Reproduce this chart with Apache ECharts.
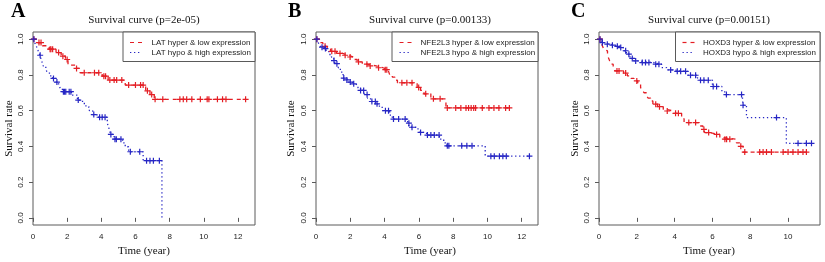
<!DOCTYPE html>
<html><head><meta charset="utf-8">
<script src="https://cdn.jsdelivr.net/npm/echarts@6/dist/echarts.min.js"></script>
<style>html,body{margin:0;padding:0;background:#fff}#c{width:825px;height:262px}</style>
</head><body><div id="c"></div>
<script>
// ---------- labels ----------
const panelLetters = ['A', 'B', 'C'];
const panelTitles = ['Survival curve (p=2e-05)', 'Survival curve (p=0.00133)', 'Survival curve (p=0.00151)'];
const lowLabels = ['LAT hyper & low expression', 'NFE2L3 hyper & low expression', 'HOXD3 hyper & low expression'];
const highLabels = ['LAT hypo & high expression', 'NFE2L3 hypo & high expression', 'HOXD3 hypo & high expression'];
const xTitle = 'Time (year)';
const yTitle = 'Survival rate';
const xTicksA = [0, 2, 4, 6, 8, 10, 12];
const xTicksB = [0, 2, 4, 6, 8, 10, 12];
const xTicksC = [0, 2, 4, 6, 8, 10];
const yTicks = [0, 0.2, 0.4, 0.6, 0.8, 1.0];
const xMaxA = 13.0, xMaxB = 12.95, xMaxC = 11.69;

// ---------- A: LAT ----------
const latLowTimes = [0.2, 0.55, 0.95, 1.35, 1.65, 1.9, 2.05, 2.5, 2.75, 4.05, 4.4, 5.4, 6.6, 6.85, 7.1];
const latLowSurv  = [0.981, 0.963, 0.944, 0.925, 0.905, 0.886, 0.855, 0.836, 0.812, 0.793, 0.771, 0.743, 0.711, 0.69, 0.663];
const latLowCensor = [0.05, 0.35, 0.47, 1.0, 1.05, 1.15, 1.5, 1.75, 2.0, 2.55, 3.0, 3.6, 3.85, 4.15, 4.25, 4.5, 4.75, 4.9, 5.2, 5.6, 6.0, 6.3, 6.45, 6.7, 6.95, 7.15, 7.6, 8.6, 8.8, 9.0, 9.3, 9.8, 10.2, 10.3, 10.8, 11.1, 11.3, 12.45];
const latHighTimes = [0.1, 0.2, 0.3, 0.4, 0.5, 0.6, 0.75, 0.86, 1.0, 1.15, 1.35, 1.5, 1.6, 1.72, 2.25, 2.6, 2.9, 3.1, 3.3, 3.5, 3.75, 4.35, 4.45, 4.55, 4.75, 5.25, 5.4, 5.6, 6.45, 7.55];
const latHighSurv  = [0.98, 0.96, 0.935, 0.91, 0.88, 0.85, 0.83, 0.81, 0.795, 0.78, 0.76, 0.743, 0.725, 0.706, 0.687, 0.659, 0.64, 0.62, 0.60, 0.578, 0.563, 0.53, 0.5, 0.467, 0.44, 0.42, 0.398, 0.37, 0.32, 0.0];
const latHighCensor = [0.05, 0.42, 1.2, 1.4, 1.78, 1.85, 1.92, 2.12, 2.22, 2.65, 3.56, 3.9, 4.05, 4.22, 4.56, 4.8, 4.88, 5.15, 5.7, 6.25, 6.65, 6.85, 7.05, 7.4];

// ---------- B: NFE2L3 ----------
const nfeLowTimes = [0.2, 0.4, 0.65, 0.85, 1.2, 1.55, 1.85, 2.2, 2.4, 2.7, 3.0, 3.5, 3.9, 4.2, 4.3, 4.45, 4.6, 4.75, 5.9, 6.1, 6.3, 6.7, 7.58];
const nfeLowSurv  = [0.98, 0.96, 0.944, 0.932, 0.92, 0.91, 0.9, 0.886, 0.873, 0.86, 0.85, 0.84, 0.829, 0.82, 0.80, 0.788, 0.77, 0.756, 0.73, 0.713, 0.694, 0.666, 0.615];
const nfeLowCensor = [0.05, 0.53, 0.92, 1.11, 1.4, 1.7, 1.99, 2.48, 2.97, 3.16, 3.65, 4.04, 4.13, 5.01, 5.3, 5.6, 5.99, 6.4, 6.85, 7.24, 7.66, 8.15, 8.45, 8.75, 8.9, 9.05, 9.2, 9.31, 9.7, 10.09, 10.38, 10.67, 11.06, 11.28];
const nfeHighTimes = [0.1, 0.2, 0.3, 0.45, 0.6, 0.75, 0.9, 1.03, 1.13, 1.3, 1.42, 1.58, 1.75, 1.9, 2.1, 2.3, 2.45, 2.6, 2.8, 3.0, 3.18, 3.5, 3.7, 3.86, 4.3, 4.45, 5.35, 5.45, 5.95, 6.05, 6.45, 7.2, 7.45, 7.63, 9.87];
const nfeHighSurv  = [0.985, 0.97, 0.955, 0.947, 0.93, 0.914, 0.9, 0.88, 0.863, 0.84, 0.816, 0.782, 0.772, 0.76, 0.75, 0.741, 0.727, 0.713, 0.69, 0.67, 0.651, 0.638, 0.62, 0.6, 0.575, 0.553, 0.53, 0.507, 0.49, 0.478, 0.463, 0.44, 0.42, 0.403, 0.345];
const nfeHighCensor = [0.05, 0.35, 0.55, 1.05, 1.22, 1.62, 1.8, 2.0, 2.2, 2.6, 2.78, 2.98, 3.26, 3.46, 3.56, 4.05, 4.23, 4.52, 4.82, 5.2, 5.42, 5.6, 6.1, 6.5, 6.7, 6.9, 7.18, 7.66, 7.75, 8.5, 8.8, 9.1, 10.2, 10.4, 10.7, 10.9, 11.1, 12.45];

// ---------- C: HOXD3 ----------
const hoxLowTimes = [0.15, 0.25, 0.35, 0.45, 0.53, 0.62, 0.75, 0.85, 1.3, 1.5, 1.7, 1.85, 2.05, 2.2, 2.3, 2.38, 2.5, 2.6, 2.73, 2.85, 3.1, 3.4, 3.57, 3.93, 4.37, 4.5, 5.3, 5.5, 5.6, 5.86, 6.39, 6.57, 7.27, 7.45, 7.62];
const hoxLowSurv  = [0.97, 0.944, 0.934, 0.91, 0.888, 0.86, 0.84, 0.822, 0.81, 0.794, 0.78, 0.766, 0.748, 0.729, 0.714, 0.70, 0.685, 0.67, 0.654, 0.636, 0.622, 0.607, 0.598, 0.585, 0.555, 0.533, 0.514, 0.495, 0.477, 0.467, 0.449, 0.44, 0.42, 0.40, 0.368];
const hoxLowCensor = [0.05, 0.95, 1.06, 1.41, 2.0, 3.0, 3.2, 3.61, 4.05, 4.2, 4.75, 5.11, 5.55, 5.8, 6.22, 6.66, 6.75, 6.92, 7.5, 7.71, 8.5, 8.68, 8.86, 9.12, 9.74, 10.0, 10.26, 10.53, 10.79, 10.97];
const hoxHighTimes = [0.14, 0.3, 0.55, 0.85, 1.11, 1.29, 1.45, 1.64, 1.85, 2.08, 2.9, 3.31, 3.57, 3.84, 4.7, 5.2, 5.3, 6.0, 6.5, 6.65, 7.59, 7.62, 7.8, 9.91];
const hoxHighSurv  = [0.98, 0.972, 0.966, 0.96, 0.953, 0.935, 0.916, 0.892, 0.878, 0.869, 0.86, 0.841, 0.828, 0.82, 0.798, 0.785, 0.77, 0.735, 0.71, 0.69, 0.664, 0.63, 0.561, 0.417];
const hoxHighCensor = [0.05, 0.18, 0.44, 0.71, 0.97, 1.15, 1.41, 1.58, 1.76, 1.94, 2.29, 2.46, 2.64, 3.0, 3.17, 3.79, 4.14, 4.32, 4.58, 4.84, 5.11, 5.37, 5.55, 5.78, 6.04, 6.22, 6.74, 7.54, 7.62, 9.39, 10.53, 10.97, 11.24];

// ---------- helpers ----------
function kmLine(times, surv, censor) {
  const pts = [[0, 1]];
  times.forEach((t, i) => pts.push([t, surv[i]]));
  const end = Math.max(times[times.length - 1], censor[censor.length - 1]);
  pts.push([end, surv[surv.length - 1]]);
  return pts;
}
function kmAt(times, surv, t) {
  let s = 1;
  for (let i = 0; i < times.length; i++) if (times[i] <= t) s = surv[i];
  return s;
}
function kmCensor(times, surv, censor) {
  return censor.map(t => [t, kmAt(times, surv, t)]);
}

const RED = '#e41e24', BLUE = '#2626c4', BOX = '#5a5a5a', SERIF = 'Liberation Serif', SANS = 'Liberation Sans';
const PLUS = 'path://M0,5L10,5M5,0L5,10';

const panels = [
  { grid: { left: 33, top: 32, width: 222, height: 193 }, xMax: xMaxA, xTicks: xTicksA,
    low: [latLowTimes, latLowSurv, latLowCensor], high: [latHighTimes, latHighSurv, latHighCensor],
    letterX: 11, titleX: 144, yTitleX: 9, legLeft: 123, lineX: 130, textX: 151.5 },
  { grid: { left: 316, top: 32, width: 222, height: 193 }, xMax: xMaxB, xTicks: xTicksB,
    low: [nfeLowTimes, nfeLowSurv, nfeLowCensor], high: [nfeHighTimes, nfeHighSurv, nfeHighCensor],
    letterX: 288, titleX: 430, yTitleX: 291, legLeft: 392, lineX: 399.5, textX: 420.5 },
  { grid: { left: 599, top: 32, width: 221, height: 193 }, xMax: xMaxC, xTicks: xTicksC,
    low: [hoxLowTimes, hoxLowSurv, hoxLowCensor], high: [hoxHighTimes, hoxHighSurv, hoxHighCensor],
    letterX: 571, titleX: 709, yTitleX: 575, legLeft: 675.5, lineX: 682.5, textX: 703 }
];

const grid = [], xAxis = [], yAxis = [], series = [], graphic = [];
panels.forEach((p, i) => {
  grid.push(Object.assign({ show: true, borderColor: BOX, borderWidth: 1, backgroundColor: 'transparent' }, p.grid));
  xAxis.push({
    type: 'value', gridIndex: i, min: 0, max: p.xMax,
    axisLine: { show: false },
    axisTick: { show: true, length: 4, lineStyle: { color: BOX }, customValues: p.xTicks },
    axisLabel: { customValues: p.xTicks, fontSize: 8, fontFamily: SANS, color: '#222', margin: 8 },
    splitLine: { show: false }
  });
  yAxis.push({
    type: 'value', gridIndex: i, min: -0.04, max: 1.04,
    axisLine: { show: false },
    axisTick: { show: true, length: 4, lineStyle: { color: BOX }, customValues: yTicks },
    axisLabel: { customValues: yTicks, rotate: 90, fontSize: 8, fontFamily: SANS, color: '#222', margin: 8,
      formatter: v => v.toFixed(1) },
    splitLine: { show: false }
  });
  [[p.low, RED, [4, 4]], [p.high, BLUE, [1.3, 2.7]]].forEach(([d, col, dash]) => {
    series.push({ type: 'line', xAxisIndex: i, yAxisIndex: i, step: 'end', symbol: 'none',
      data: kmLine(d[0], d[1], d[2]), lineStyle: { color: col, width: 1.3, type: dash }, silent: true, z: 2 });
  });
  [[p.low, RED], [p.high, BLUE]].forEach(([d, col]) => {
    series.push({ type: 'scatter', xAxisIndex: i, yAxisIndex: i, symbol: PLUS, symbolSize: 6,
      data: kmCensor(d[0], d[1], d[2]),
      itemStyle: { color: 'none', borderColor: col, borderWidth: 1.2, opacity: 1 }, silent: true, z: 3 });
  });
  const g = p.grid;
  const cx = p.titleX;
  graphic.push({ type: 'text', x: p.letterX, y: 12, style: { text: panelLetters[i], font: 'bold 20px ' + SERIF, fill: '#000', align: 'left', verticalAlign: 'middle' } });
  graphic.push({ type: 'text', x: cx, y: 20, style: { text: panelTitles[i], font: '11px ' + SERIF, fill: '#111', align: 'center', verticalAlign: 'middle' } });
  graphic.push({ type: 'text', x: cx, y: 251, style: { text: xTitle, font: '11px ' + SERIF, fill: '#111', align: 'center', verticalAlign: 'middle' } });
  graphic.push({ type: 'text', x: p.yTitleX, y: g.top + g.height / 2, rotation: Math.PI / 2, style: { text: yTitle, font: '11px ' + SERIF, fill: '#111', align: 'center', verticalAlign: 'middle' } });
  const right = g.left + g.width;
  graphic.push({ type: 'rect', z: 10, shape: { x: p.legLeft, y: g.top, width: right - p.legLeft, height: 29.5 }, style: { fill: '#fff', stroke: BOX, lineWidth: 1 } });
  graphic.push({ type: 'line', z: 11, shape: { x1: p.lineX, y1: 42.5, x2: p.lineX + 12, y2: 42.5 }, style: { stroke: RED, lineWidth: 1.2, lineDash: [4, 4] } });
  graphic.push({ type: 'line', z: 11, shape: { x1: p.lineX, y1: 52.5, x2: p.lineX + 12, y2: 52.5 }, style: { stroke: BLUE, lineWidth: 1.2, lineDash: [1.3, 2.7] } });
  graphic.push({ type: 'text', z: 11, x: p.textX, y: 42.5, style: { text: lowLabels[i], font: '8px ' + SANS, fill: '#222', align: 'left', verticalAlign: 'middle' } });
  graphic.push({ type: 'text', z: 11, x: p.textX, y: 52.5, style: { text: highLabels[i], font: '8px ' + SANS, fill: '#222', align: 'left', verticalAlign: 'middle' } });
});

const chart = echarts.init(document.getElementById('c'), null, { renderer: 'canvas' });
chart.setOption({ animation: false, backgroundColor: '#fff', grid, xAxis, yAxis, series, graphic });
</script></body></html>
